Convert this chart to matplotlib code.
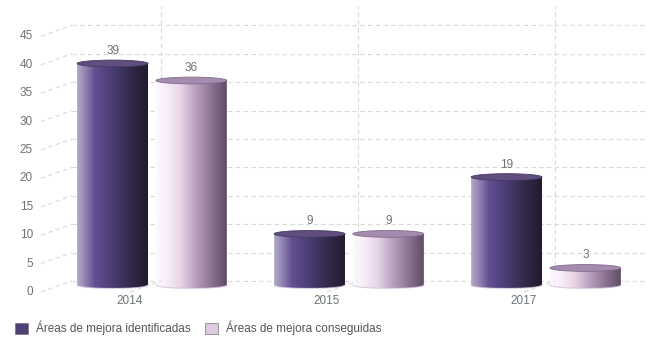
import numpy as np
import matplotlib
matplotlib.use("Agg")
import matplotlib.pyplot as plt
from matplotlib.colors import LinearSegmentedColormap
from matplotlib.patches import PathPatch, Patch, Ellipse
from matplotlib.path import Path
from matplotlib.lines import Line2D
from matplotlib.transforms import ScaledTranslation, IdentityTransform

plt.rcParams['font.family'] = ['Liberation Sans', 'DejaVu Sans']

years = ["2014", "2015", "2017"]
series_names = ["Áreas de mejora identificadas", "Áreas de mejora conseguidas"]
identificadas = [39, 9, 19]
conseguidas = [36, 9, 3]
y_ticks = [0, 5, 10, 15, 20, 25, 30, 35, 40, 45]

TXT = "#6d7377"
GRID = "#d9d9d9"

cmap_ident = LinearSegmentedColormap.from_list("ident", [
    (0.0, "#b2a9c6"), (0.08, "#9c90b8"), (0.25, "#654f93"),
    (0.5, "#493c72"), (0.8, "#302745"), (1.0, "#221a30")])
cmap_cons = LinearSegmentedColormap.from_list("cons", [
    (0.0, "#fdf9fd"), (0.15, "#f8eef8"), (0.35, "#e6d4e6"),
    (0.55, "#bba3bf"), (0.78, "#8c7394"), (1.0, "#5f4c66")])
top_colors = ["#5f4e7e", "#a38cad"]
top_edges = ["#453766", "#806a8c"]

W, H, DPI = 656, 355, 100
fig = plt.figure(figsize=(W / DPI, H / DPI), dpi=DPI)

# front plane of the 3d box, in pixels
left_px, right_px, y0_px, px_per_unit = 41, 614, 292, 5.68
spacing = 197.0
first_center = 130.0
xmin = (left_px - first_center) / spacing
xmax = (right_px - first_center) / spacing
xmax_ax = (650 - first_center) / spacing
ax = fig.add_axes([left_px / W, (H - y0_px) / H,
                   (650 - left_px) / W, 45 * px_per_unit / H])
ax.set_xlim(xmin, xmax_ax)
ax.set_ylim(0, 45)
ax.axis("off")

depth_dx, depth_dy = 31, 11      # back wall offset in pixels
bar_dx, bar_dy = 22, 7           # cylinder plane offset in pixels
dash = (0, (4, 3))


def shifted(dx, dy):
    return ax.transData + ScaledTranslation(dx / DPI, dy / DPI, fig.dpi_scale_trans)


back = shifted(depth_dx, depth_dy)
ylim_back_top = 48.5

# back wall grid
for v in y_ticks:
    ax.plot([xmin, xmax], [v, v], transform=back, color=GRID, lw=0.8,
            ls=dash, zorder=1, clip_on=False)
for i in range(len(years)):
    ax.plot([i, i], [0, ylim_back_top], transform=back, color=GRID, lw=0.8,
            ls=dash, zorder=1, clip_on=False)

# slanted depth lines on the left wall and the floor
ident = IdentityTransform()
for pt in [(xmin, v) for v in y_ticks] + [(i, 0) for i in range(len(years))]:
    x0, y0 = ax.transData.transform(pt)
    fig.add_artist(Line2D([x0, x0 + depth_dx], [y0, y0 + depth_dy], transform=ident,
                          color=GRID, lw=0.8, ls=dash, zorder=1))

# y tick labels
for v in y_ticks:
    ax.text(xmin - 8 / spacing, v, str(v), ha="right", va="center",
            fontsize=8.5, color=TXT)
# category labels
for i, yr in enumerate(years):
    ax.text(i, -1.6, yr, ha="center", va="center", fontsize=8.5, color=TXT)

# cylinders
bar_tr = shifted(bar_dx, bar_dy)
bar_w = 0.36
offsets = [-0.2, 0.2]
ell_h = 3.4 / px_per_unit   # semi-minor axis in value units
grad = np.linspace(0, 1, 256).reshape(1, -1)
t = np.linspace(0, np.pi, 60)

for s, (vals, cmap) in enumerate([(identificadas, cmap_ident), (conseguidas, cmap_cons)]):
    for i, v in enumerate(vals):
        cx = i + offsets[s]
        x0, x1 = cx - bar_w / 2, cx + bar_w / 2
        arc_x = cx + (bar_w / 2) * np.cos(t)
        arc_y = -ell_h * np.sin(t)
        verts = [(x0, v), (x1, v), (x1, 0)] + list(zip(arc_x, arc_y)) + [(x0, 0), (x0, v)]
        body = PathPatch(Path(verts), transform=bar_tr, facecolor="none",
                         edgecolor="none", zorder=3, clip_on=False)
        ax.add_patch(body)
        im = ax.imshow(grad, cmap=cmap, aspect="auto", interpolation="bilinear",
                       extent=(x0, x1, -ell_h, v), transform=bar_tr, zorder=3)
        im.set_clip_path(body)
        # bottom rim highlight
        ax.plot(arc_x, arc_y, transform=bar_tr, color="#c8bcd8", lw=0.8,
                alpha=0.7, zorder=4, clip_on=False)
        top = Ellipse((cx, v), bar_w, 2 * ell_h, transform=bar_tr,
                      facecolor=top_colors[s], edgecolor=top_edges[s], lw=0.6, zorder=5)
        ax.add_patch(top)
        ax.text(cx, v + ell_h + 1.6, str(v), transform=bar_tr, ha="center",
                va="center", fontsize=8.5, color=TXT, zorder=6)

ax.set_xlim(xmin, xmax_ax)
ax.set_ylim(0, 45)

handles = [Patch(facecolor="#4f3f77", edgecolor="#7a7a8a", lw=0.6),
           Patch(facecolor="#dfc9e3", edgecolor="#8a8a8a", lw=0.6)]
fig.legend(handles, series_names, loc="lower left", bbox_to_anchor=(4 / W, 9 / H),
           ncol=2, frameon=False, fontsize=8.5, handlelength=1.1, handleheight=1.1,
           handletextpad=0.7, columnspacing=1.2, labelcolor="#555555")

fig.savefig("out.png", dpi=DPI)
